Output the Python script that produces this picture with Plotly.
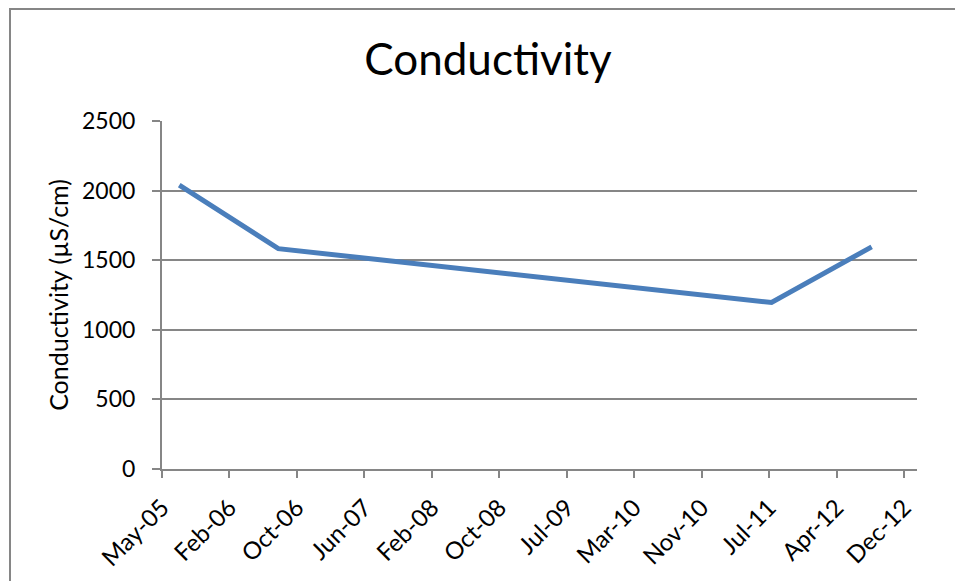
import plotly.graph_objects as go
import pandas as pd

# Data
dates = ["2005-07-31", "2006-08-02", "2011-08-04", "2012-08-09"]
conductivity = [2040, 1583, 1196, 1596]

tick_labels = ["May-05", "Feb-06", "Oct-06", "Jun-07", "Feb-08", "Oct-08",
               "Jul-09", "Mar-10", "Nov-10", "Jul-11", "Apr-12", "Dec-12"]
y_ticks = [0, 500, 1000, 1500, 2000, 2500]

axis_start = pd.Timestamp("2005-05-28")
tick_step_days = 250
tickvals = [axis_start + pd.Timedelta(days=tick_step_days * i) for i in range(len(tick_labels))]
axis_end = axis_start + pd.Timedelta(days=2798)

FONT = "Lato"
GRAY = "#868686"

# page body has an 8px margin; figure is sized to fit the window
W, H = 955, 573
L, T = 154, 113
PW, PH = 755, 348

fig = go.Figure()
fig.add_trace(go.Scatter(
    x=pd.to_datetime(dates), y=conductivity, mode="lines",
    line=dict(color="#4A7EBB", width=5),
    showlegend=False,
))

fig.update_layout(
    width=W, height=H,
    margin=dict(l=L, r=W - L - PW, t=T, b=H - T - PH, pad=0, autoexpand=False),
    paper_bgcolor="white", plot_bgcolor="white",
    font=dict(family=FONT, color="black"),
    title=dict(text="Conductivity", x=(488 - 8) / W, xanchor="center",
               y=1 - (60 - 8) / H, yanchor="middle", yref="container",
               font=dict(family=FONT, size=44, color="black")),
    xaxis=dict(
        type="date", range=[axis_start, axis_end], automargin=False,
        tickmode="array", tickvals=tickvals, ticktext=tick_labels,
        tickangle=-45, ticks="outside", ticklen=7, tickcolor=GRAY, tickwidth=2,
        ticklabelstandoff=6,
        showline=True, linecolor=GRAY, linewidth=2,
        showgrid=False, zeroline=False,
        tickfont=dict(family=FONT, size=24, color="black"),
    ),
    yaxis=dict(
        range=[0, 2500], tickmode="array", tickvals=y_ticks, automargin=False,
        ticks="outside", ticklen=8, tickcolor=GRAY, tickwidth=2,
        ticklabelstandoff=12,
        showline=True, linecolor=GRAY, linewidth=2,
        showgrid=True, gridcolor=GRAY, gridwidth=2, zeroline=False,
        tickfont=dict(family=FONT, size=23, color="black"),
        title=dict(text="Conductivity (µS/cm)", standoff=6,
                   font=dict(family=FONT, size=25, color="black")),
    ),
    shapes=[dict(type="rect", xref="paper", yref="paper",
                 x0=(2 - L) / PW, x1=(975 - L) / PW,
                 y0=-200 / PH, y1=(PH + T - 1) / PH,
                 line=dict(color=GRAY, width=2), fillcolor="rgba(0,0,0,0)",
                 layer="below")],
)

fig.write_html("out.html")
